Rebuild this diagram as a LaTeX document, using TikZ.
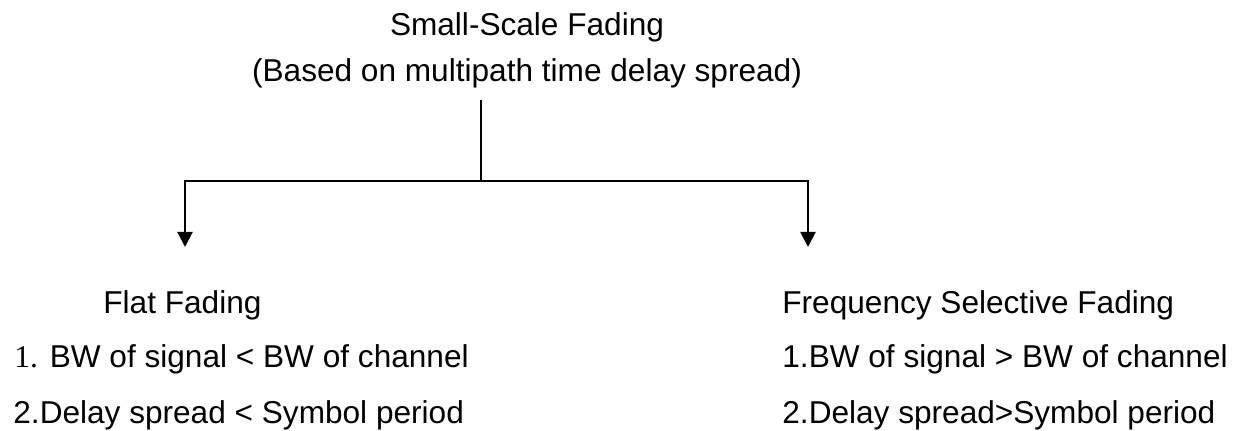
\documentclass[tikz,border=0pt]{standalone}
\usepackage{fontspec}
\setmainfont{Liberation Serif}
\setsansfont{Liberation Sans}
\usetikzlibrary{arrows.meta}
\begin{document}
\begin{tikzpicture}[
		x=0.5pt, y=-0.5pt,
		heading/.style={font=\sffamily\fontsize{15.8}{18}\selectfont, inner sep=0pt, anchor=base},
		entry/.style={font=\sffamily\fontsize{15.8}{18}\selectfont, inner sep=0pt, anchor=base west},
		branch/.style={line width=1pt, -{Triangle[length=7.5pt,width=7.5pt]}}
	]
	\useasboundingbox (0,0) rectangle (1236,431);
	\node[heading] (title) at (527,36) {Small-Scale Fading};
	\node[heading] (basis) at (527,82) {(Based on multipath time delay spread)};
	\coordinate (split) at (481,181);
	\coordinate (flat tip) at (185,247);
	\coordinate (sel tip) at (808,247);
	\draw[line width=0.8pt] (basis.south -| split) ++(0,11) -- (split);
	\draw[branch] (split) -| (flat tip);
	\draw[branch] (split) -| (sel tip);
	\node[entry] (flat) at (103,314) {Flat Fading};
	\node[entry] (flat one) at (14,368) {{\rmfamily 1.} BW of signal < BW of channel};
	\node[entry] (flat two) at (13,424) {2.Delay spread < Symbol period};
	\node[entry] (sel) at (782,314) {Frequency Selective Fading};
	\node[entry] (sel one) at (782,368) {1.BW of signal > BW of channel};
	\node[entry] (sel two) at (782,424) {2.Delay spread>Symbol period};
\end{tikzpicture}
\end{document}
